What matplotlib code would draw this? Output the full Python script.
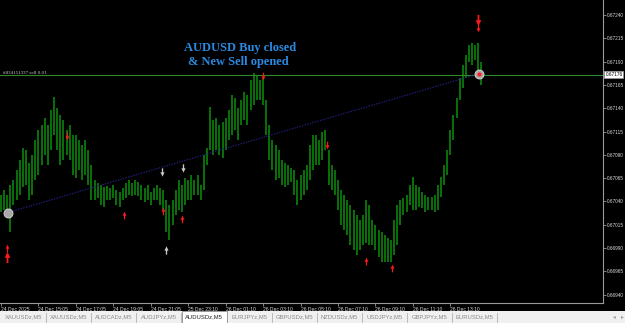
import matplotlib
matplotlib.use("Agg")
import matplotlib.pyplot as plt
from matplotlib.path import Path
from matplotlib.patches import Rectangle
import matplotlib.transforms as mtransforms

# ---------------- data (10-minute bars) ----------------
highs = [
    0.67047, 0.67052, 0.67047, 0.67058, 0.67063, 0.67074, 0.67084, 0.67097, 0.67095, 0.67081,
    0.67090, 0.67106, 0.67117, 0.67122, 0.67130, 0.67122, 0.67138, 0.67152, 0.67140, 0.67133,
    0.67127, 0.67117, 0.67122, 0.67111, 0.67111, 0.67106, 0.67101, 0.67106, 0.67095, 0.67079,
    0.67063, 0.67060, 0.67058, 0.67055, 0.67057, 0.67054, 0.67058, 0.67052, 0.67050, 0.67054,
    0.67060, 0.67063, 0.67060, 0.67063, 0.67061, 0.67058, 0.67054, 0.67058, 0.67050, 0.67054,
    0.67058, 0.67054, 0.67052, 0.67042, 0.67036, 0.67042, 0.67052, 0.67063, 0.67058, 0.67065,
    0.67063, 0.67068, 0.67063, 0.67068, 0.67058, 0.67090, 0.67097, 0.67141, 0.67127, 0.67130,
    0.67122, 0.67125, 0.67130, 0.67138, 0.67154, 0.67151, 0.67140, 0.67149, 0.67157, 0.67154,
    0.67170, 0.67178, 0.67176, 0.67170, 0.67172, 0.67149, 0.67122, 0.67106, 0.67101, 0.67095,
    0.67084, 0.67081, 0.67079, 0.67076, 0.67074, 0.67063, 0.67068, 0.67074, 0.67079, 0.67101,
    0.67111, 0.67111, 0.67106, 0.67115, 0.67117, 0.67095, 0.67079, 0.67074, 0.67063, 0.67052,
    0.67047, 0.67042, 0.67036, 0.67031, 0.67025, 0.67020, 0.67025, 0.67042, 0.67036, 0.67020,
    0.67015, 0.67009, 0.67007, 0.67004, 0.67001, 0.66999, 0.67020, 0.67036, 0.67042, 0.67044,
    0.67047, 0.67058, 0.67066, 0.67058, 0.67055, 0.67050, 0.67047, 0.67045, 0.67045, 0.67047,
    0.67058, 0.67066, 0.67079, 0.67095, 0.67117, 0.67133, 0.67151, 0.67172, 0.67186, 0.67197,
    0.67208, 0.67210, 0.67208, 0.67210, 0.67190,
]
lows = [
    0.67029, 0.67031, 0.67025, 0.67007, 0.67036, 0.67042, 0.67047, 0.67055, 0.67058, 0.67042,
    0.67047, 0.67063, 0.67068, 0.67079, 0.67090, 0.67079, 0.67095, 0.67111, 0.67095, 0.67079,
    0.67084, 0.67090, 0.67084, 0.67068, 0.67065, 0.67074, 0.67063, 0.67068, 0.67058, 0.67042,
    0.67042, 0.67044, 0.67036, 0.67034, 0.67042, 0.67042, 0.67044, 0.67036, 0.67034, 0.67042,
    0.67044, 0.67047, 0.67046, 0.67047, 0.67046, 0.67042, 0.67039, 0.67042, 0.67036, 0.67042,
    0.67042, 0.67036, 0.67031, 0.67007, 0.66999, 0.67015, 0.67025, 0.67031, 0.67029, 0.67036,
    0.67042, 0.67042, 0.67047, 0.67047, 0.67042, 0.67052, 0.67079, 0.67095, 0.67090, 0.67095,
    0.67090, 0.67087, 0.67095, 0.67106, 0.67111, 0.67117, 0.67106, 0.67122, 0.67127, 0.67122,
    0.67138, 0.67143, 0.67149, 0.67149, 0.67143, 0.67111, 0.67084, 0.67074, 0.67063, 0.67065,
    0.67058, 0.67055, 0.67058, 0.67061, 0.67047, 0.67036, 0.67042, 0.67047, 0.67052, 0.67063,
    0.67074, 0.67079, 0.67079, 0.67084, 0.67095, 0.67058, 0.67052, 0.67047, 0.67031, 0.67015,
    0.67009, 0.67004, 0.66993, 0.66988, 0.66983, 0.66988, 0.66993, 0.66995, 0.66993, 0.66993,
    0.66988, 0.66980, 0.66975, 0.66975, 0.66975, 0.66975, 0.66983, 0.66993, 0.67015, 0.67025,
    0.67029, 0.67036, 0.67031, 0.67031, 0.67034, 0.67033, 0.67029, 0.67031, 0.67031, 0.67029,
    0.67031, 0.67045, 0.67058, 0.67068, 0.67090, 0.67106, 0.67130, 0.67149, 0.67162, 0.67172,
    0.67190, 0.67186, 0.67192, 0.67181, 0.67165,
]

time_labels = ["24 Dec 2025", "24 Dec 15:05", "24 Dec 17:05", "24 Dec 19:05", "24 Dec 21:05",
               "25 Dec 23:10", "26 Dec 01:10", "26 Dec 03:10", "26 Dec 05:10", "26 Dec 07:10",
               "26 Dec 09:10", "26 Dec 11:10", "26 Dec 13:10"]
price_ticks = [0.67240, 0.67215, 0.67190, 0.67165, 0.67140, 0.67115, 0.67090,
               0.67065, 0.67040, 0.67015, 0.66990, 0.66965, 0.66940]

sell_price = 0.67176
sell_label = "#834151337 sell 0.01"
trade_open = (2.2, 0.67028)     # buy opened (bar index, price)
trade_close = (153.2, 0.67177)  # buy closed / sell opened

red_down_x = [21.2, 84.0, 104.5, 152.9]
red_down_y = [0.67110, 0.67175, 0.67101, 0.67226]
red_up_x = [39.4, 51.9, 58.0, 117.0, 125.3, 1.9]
red_up_y = [0.67025, 0.67030, 0.67021, 0.66976, 0.66969, 0.66990]
big_down_x, big_down_y = [152.9], [0.67235]
big_up_x, big_up_y = [1.9], [0.66980]
white_down_x = [51.6, 58.3]
white_down_y = [0.67072, 0.67076]
white_up_x = [52.9]
white_up_y = [0.66988]

tabs = ["XAUUSDz,M5", "XAUUSDz,M5", "AUDCADz,M5", "AUDJPYz,M5", "AUDUSDz,M5", "EURJPYz,M5",
        "GBPUSDz,M5", "NZDUSDz,M5", "USDJPYz,M5", "GBPJPYz,M5", "EURUSDz,M5"]
active_tab = "AUDUSDz,M5"
title_lines = ["AUDUSD Buy closed", "& New Sell opened"]

# ---------------- figure ----------------
W, H = 625, 323
fig = plt.figure(figsize=(W / 100, H / 100), dpi=100, facecolor="black")
ax = fig.add_axes([0, 20 / H, 603 / W, 303 / H], facecolor="black")

idx = list(range(len(highs)))
ax.vlines(idx, lows, highs, color="#0c900c", linewidth=1.1)

ax.set_xlim(-0.32, 192.95)
ax.set_ylim(0.669310, 0.672561)

# sell order line
ax.axhline(sell_price, color="#2f8a2f", linewidth=0.8)
ax.text(0.005, sell_price, sell_label, transform=mtransforms.blended_transform_factory(ax.transAxes, ax.transData),
        fontsize=3.6, family="Liberation Serif", color="#c8c8c8", va="bottom", ha="left")

# trade line
ax.plot([trade_open[0], trade_close[0]], [trade_open[1], trade_close[1]],
        linestyle=(0, (1.2, 1.2)), color="#23238c", linewidth=0.8)

# arrow markers
down = Path([(-0.16, 1.0), (0.16, 1.0), (0.16, 0.05), (0.5, 0.05), (0, -1.0),
             (-0.5, 0.05), (-0.16, 0.05), (-0.16, 1.0)],
            [Path.MOVETO] + [Path.LINETO] * 6 + [Path.CLOSEPOLY])
up = Path([(x, -y) for x, y in down.vertices], down.codes)

ax.scatter(red_down_x, red_down_y, marker=down, s=5.5 ** 2, color="#ff1a1a", zorder=5, linewidths=0)
ax.scatter(red_up_x, red_up_y, marker=up, s=5.5 ** 2, color="#ff1a1a", zorder=5, linewidths=0)
ax.scatter(big_down_x, big_down_y, marker=down, s=8 ** 2, color="#ff1a1a", zorder=5, linewidths=0)
ax.scatter(big_up_x, big_up_y, marker=up, s=8 ** 2, color="#ff1a1a", zorder=5, linewidths=0)
ax.scatter(white_down_x, white_down_y, marker=down, s=6 ** 2, color="#c8c8c8", zorder=5, linewidths=0)
ax.scatter(white_up_x, white_up_y, marker=up, s=6 ** 2, color="#c8c8c8", zorder=5, linewidths=0)

# trade open / close circles
ax.scatter([trade_open[0], trade_close[0]], [trade_open[1], trade_close[1]], marker="o", s=6.5 ** 2,
           facecolor="#a8a8a8", edgecolor="#d8d8d8", linewidths=0.6, zorder=6)
ax.scatter([trade_close[0]], [trade_close[1]], marker="o", s=2 ** 2, color="#ff2020", zorder=7)

# annotation
ax.text(0.398, 1 - 48 / 303, title_lines[0], transform=ax.transAxes, ha="center", va="center",
        fontsize=9, family="Liberation Serif", fontweight="bold", color="#2a8ae0")
ax.text(0.395, 1 - 62.5 / 303, title_lines[1], transform=ax.transAxes, ha="center", va="center",
        fontsize=9, family="Liberation Serif", fontweight="bold", color="#2a8ae0")

# axes styling
for s in ["top", "left"]:
    ax.spines[s].set_visible(False)
for s in ["right", "bottom"]:
    ax.spines[s].set_color("#9a9a9a")
    ax.spines[s].set_linewidth(0.8)

ax.yaxis.tick_right()
ax.set_yticks(price_ticks)
ax.set_yticklabels([f"{p:.5f}" for p in price_ticks], fontsize=3.4, family="Liberation Sans", color="#d8d8d8")
ax.tick_params(axis="y", direction="out", length=2, width=0.6, color="#9a9a9a", pad=1)

ax.set_xticks([12 * k for k in range(len(time_labels))])
ax.set_xticklabels(time_labels, fontsize=3.6, family="Liberation Sans", color="#d8d8d8", ha="left")
ax.tick_params(axis="x", direction="out", length=2, width=0.6, color="#9a9a9a", pad=0.8)

# highlighted current price box
ax.text(1.004, sell_price, f"{sell_price:.5f}",
        transform=mtransforms.blended_transform_factory(ax.transAxes, ax.transData),
        fontsize=3.4, family="Liberation Sans", color="black", va="center", ha="left",
        bbox=dict(boxstyle="square,pad=0.2", facecolor="white", edgecolor="#9a9a9a", linewidth=0.5),
        clip_on=False, zorder=10)

# ---------------- tab bar ----------------
tb = fig.add_axes([0, 0, 1, 12 / H])
tb.set_xlim(0, W)
tb.set_ylim(0, 12)
tb.axis("off")
tb.add_patch(Rectangle((0, 0), W, 12, facecolor="#f0f0f0", edgecolor="none"))
tab_w = 45.1
x0 = 1.0
for i, name in enumerate(tabs):
    left = x0 + i * tab_w
    if name == active_tab:
        tb.add_patch(Rectangle((left + 1, 0.3), tab_w - 1, 11.7, facecolor="white",
                               edgecolor="#8a8a8a", linewidth=0.6))
        col = "#202020"
    else:
        col = "#8a8a8a"
        tb.plot([left + tab_w, left + tab_w], [1.5, 10.5], color="#b0b0b0", linewidth=0.6)
    tb.text(left + tab_w / 2, 6, name, ha="center", va="center", fontsize=4.2,
            family="Liberation Sans", color=col)
tb.text(614, 6, "\u25c2", ha="center", va="center", fontsize=4, color="#9a9a9a")
tb.text(622, 6, "\u25b8", ha="center", va="center", fontsize=4, color="#9a9a9a")

fig.savefig("out.png", dpi=100, facecolor="black")
